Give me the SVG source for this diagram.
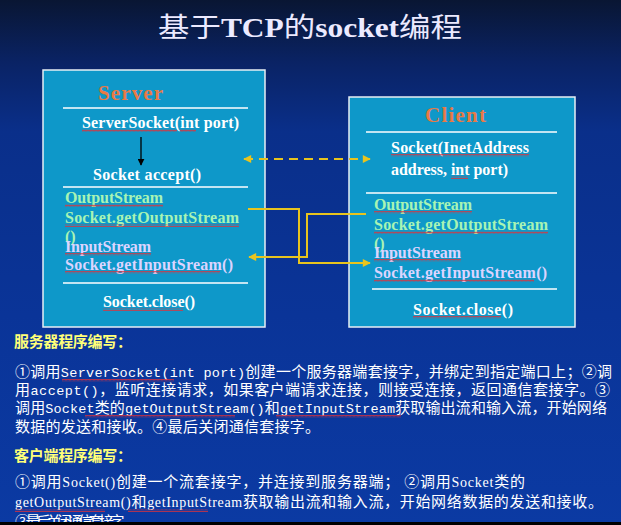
<svg xmlns="http://www.w3.org/2000/svg" width="621" height="525" viewBox="0 0 621 525">
<style>
.box{fill:#0e98c9;stroke:#e8eef4;stroke-width:1.5}
.sep{stroke:#ffffff;stroke-width:1.3}
.t{font-family:"Liberation Serif","Noto Sans CJK SC",serif;font-weight:bold;font-size:16px}
.w{fill:#ffffff}
.g{fill:#a8f4b4}
.p{fill:#dcd4ff}
.ttl{font-family:"Liberation Serif",serif;font-weight:bold;font-size:21px;fill:#e87a46}
.cn{font-family:"Noto Sans CJK SC","Liberation Sans",sans-serif;font-size:15px;fill:#ffffff}
.hd{font-family:"Noto Sans CJK SC",sans-serif;font-size:15px;font-weight:bold;fill:#ffff78}
.mono{font-family:"Liberation Mono",monospace;font-size:13.5px}
.ser{font-family:"Liberation Serif",serif;font-size:14px}
.yl{fill:none;stroke:#e8c41e;stroke-width:2}
.sq{fill:url(#wave)}
</style>
<defs>
<linearGradient id="bg" x1="0" y1="0" x2="0" y2="1">
<stop offset="0" stop-color="#091633"/>
<stop offset="0.12" stop-color="#0a2365"/>
<stop offset="0.25" stop-color="#0a2f8a"/>
<stop offset="0.6" stop-color="#0a3498"/>
<stop offset="1" stop-color="#0b3aa3"/>
</linearGradient>
<pattern id="wave" width="4" height="3" patternUnits="userSpaceOnUse">
<path d="M0 2.5 L1 0.8 L2 2.5 L3 0.8 L4 2.5" fill="none" stroke="#e0303a" stroke-width="0.8"/>
</pattern>
<marker id="ay" viewBox="0 0 10 10" refX="9" refY="5" markerWidth="10" markerHeight="8" markerUnits="userSpaceOnUse" orient="auto">
<path d="M0 0 L10 5 L0 10 Z" fill="#e8c41e"/>
</marker>
<marker id="ays" viewBox="0 0 10 10" refX="1" refY="5" markerWidth="10" markerHeight="8" markerUnits="userSpaceOnUse" orient="auto">
<path d="M10 0 L0 5 L10 10 Z" fill="#e8c41e"/>
</marker>
<marker id="ab" viewBox="0 0 10 10" refX="9" refY="5" markerWidth="7" markerHeight="7" markerUnits="userSpaceOnUse" orient="auto">
<path d="M0 0 L10 5 L0 10 Z" fill="#000000"/>
</marker>
</defs>
<rect x="0" y="0" width="621" height="525" fill="url(#bg)"/>

<text x="158" y="37" textLength="304" lengthAdjust="spacingAndGlyphs" style="font-size:27px;fill:#eceaff;font-family:'Noto Sans CJK SC',sans-serif"><tspan>基于</tspan><tspan style="font-family:'Liberation Serif',serif;font-weight:bold">TCP</tspan><tspan>的</tspan><tspan style="font-family:'Liberation Serif',serif;font-weight:bold">socket</tspan><tspan>编程</tspan></text>

<g id="server">
<rect class="box" x="43" y="70" width="222" height="257"/>
<text class="ttl" x="98" y="100" textLength="65">Server</text>
<line class="sep" x1="63" y1="108" x2="248" y2="108"/>
<text class="t w" x="82" y="128" textLength="157">ServerSocket(int port)</text>
<text class="t w" x="93" y="180" textLength="108">Socket accept()</text>
<line class="sep" x1="63" y1="187" x2="248" y2="187"/>
<text class="t g" x="65" y="203" textLength="98">OutputStream</text>
<text class="t g" x="65" y="223" textLength="174">Socket.getOutputStream</text>
<text class="t g" x="65" y="242">()</text>
<text class="t p" x="65" y="252" textLength="86">InputStream</text>
<text class="t p" x="65" y="270" textLength="168">Socket.getInputSream()</text>
<line class="sep" x1="63" y1="283" x2="248" y2="283"/>
<text class="t w" x="103" y="307" textLength="92">Socket.close()</text>
<rect class="sq" x="82" y="129" width="95" height="3"/>
<rect class="sq" x="180" y="129" width="16" height="3"/>
<rect class="sq" x="65" y="204" width="98" height="3"/>
<rect class="sq" x="65" y="224" width="174" height="3"/>
<rect class="sq" x="65" y="253" width="86" height="3"/>
<rect class="sq" x="65" y="271" width="155" height="3"/>
<rect class="sq" x="103" y="308" width="80" height="3"/>
</g>

<g id="client">
<rect class="box" x="349" y="97" width="226" height="230"/>
<text class="ttl" x="425" y="122" textLength="61">Client</text>
<line class="sep" x1="366" y1="132" x2="557" y2="132"/>
<text class="t w" x="391" y="153" textLength="138">Socket(InetAddress</text>
<text class="t w" x="391" y="175" textLength="117">address, int port)</text>
<line class="sep" x1="366" y1="193" x2="557" y2="193"/>
<text class="t g" x="374" y="210" textLength="98">OutputStream</text>
<text class="t g" x="374" y="230" textLength="174">Socket.getOutputStream</text>
<text class="t g" x="374" y="249">()</text>
<text class="t p" x="374" y="258" textLength="87">InputStream</text>
<text class="t p" x="374" y="278" textLength="173">Socket.getInputStream()</text>
<line class="sep" x1="372" y1="289" x2="557" y2="289"/>
<text class="t w" x="413" y="315" textLength="100">Socket.close()</text>
<rect class="sq" x="391" y="154" width="138" height="3"/>
<rect class="sq" x="451" y="176" width="17" height="3"/>
<rect class="sq" x="374" y="211" width="98" height="3"/>
<rect class="sq" x="374" y="231" width="174" height="3"/>
<rect class="sq" x="374" y="259" width="87" height="3"/>
<rect class="sq" x="374" y="279" width="160" height="3"/>
<rect class="sq" x="413" y="316" width="88" height="3"/>
</g>

<g id="connectors">
<line x1="141" y1="137" x2="141" y2="165" stroke="#000000" stroke-width="1.3" marker-end="url(#ab)"/>
<line class="yl" x1="244" y1="159" x2="370" y2="159" stroke-dasharray="9 6" marker-start="url(#ays)" marker-end="url(#ay)"/>
<polyline class="yl" points="248,209 299,209 299,263 370,263" marker-end="url(#ay)"/>
<polyline class="yl" points="366,214 307,214 307,257 249,257" marker-end="url(#ay)"/>
</g>

<g id="server-notes">
<text class="hd" x="14" y="347" textLength="118">服务器程序编写：</text>
<text class="cn" x="15" y="377" textLength="597" lengthAdjust="spacing">①调用<tspan class="mono">ServerSocket(int port)</tspan>创建一个服务器端套接字，并绑定到指定端口上；②调</text>
<text class="cn" x="15" y="395" textLength="595" lengthAdjust="spacing">用<tspan class="mono">accept()</tspan>，监听连接请求，如果客户端请求连接，则接受连接，返回通信套接字。③</text>
<text class="cn" x="15" y="413" textLength="592" lengthAdjust="spacing">调用<tspan class="mono">Socket</tspan>类的<tspan class="mono">getOutputStream()</tspan>和<tspan class="mono">getInputStream</tspan>获取输出流和输入流，开始网络</text>
<text class="cn" x="15" y="432" textLength="305" lengthAdjust="spacing">数据的发送和接收。④最后关闭通信套接字。</text>
<rect class="sq" x="62" y="379" width="112" height="3"/>
<rect class="sq" x="85" y="415" width="150" height="3"/>
<rect class="sq" x="276" y="415" width="125" height="3"/>
</g>

<g id="client-notes">
<text class="hd" x="14" y="461" textLength="118">客户端程序编写：</text>
<text class="cn" x="15" y="487" textLength="510" lengthAdjust="spacing">①调用<tspan class="ser">Socket()</tspan>创建一个流套接字，并连接到服务器端； ②调用<tspan class="ser">Socket</tspan>类的</text>
<text class="cn" x="15" y="507" textLength="588" lengthAdjust="spacing"><tspan class="ser">getOutputStream()</tspan>和<tspan class="ser">getInputStream</tspan>获取输出流和输入流，开始网络数据的发送和接收。</text>
<text class="cn" x="15" y="527" textLength="120" lengthAdjust="spacing">③最后关闭通信套接字。</text>
<rect class="sq" x="15" y="509" width="90" height="3"/>
<rect class="sq" x="128" y="509" width="80" height="3"/>
</g>
<rect x="0" y="522" width="621" height="3" fill="#000000"/>
</svg>
